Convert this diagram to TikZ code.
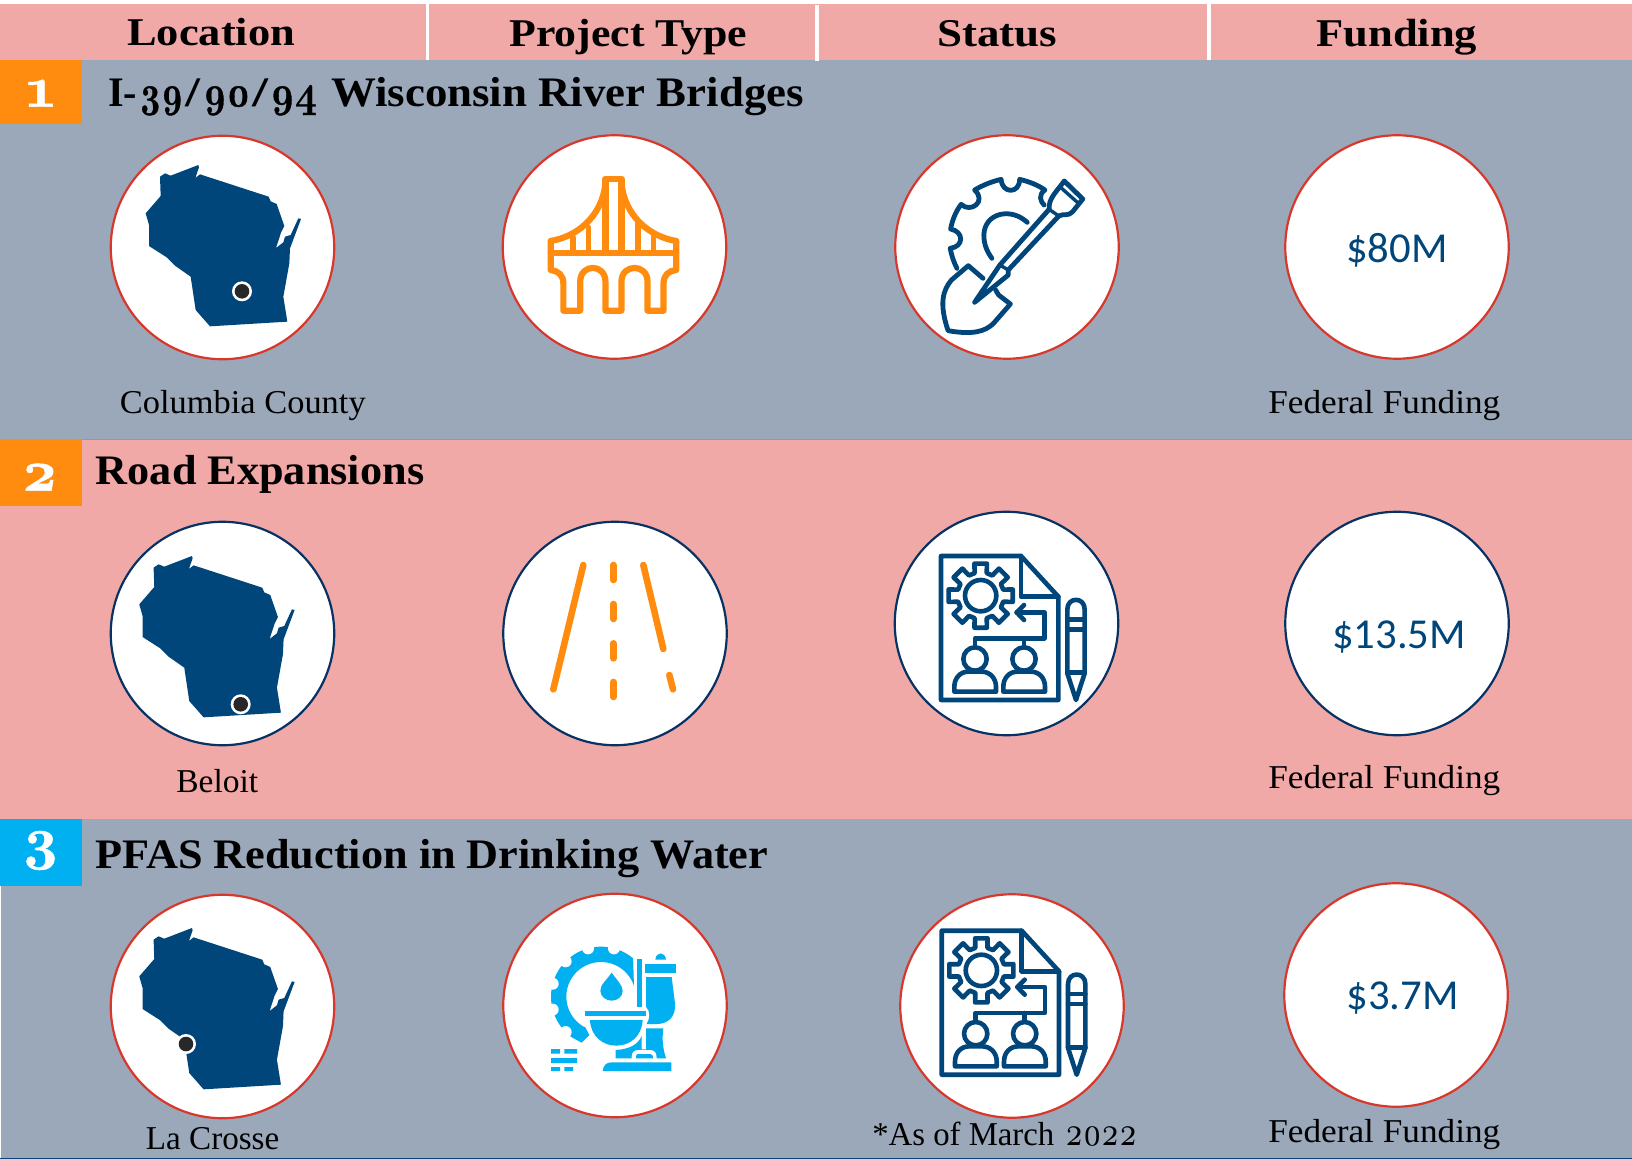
\documentclass[tikz,border=0pt]{standalone}
\usepackage{fontspec}
\usepackage{graphicx}
\setmainfont{Liberation Serif}
\newfontfamily\onum[Numbers=OldStyle,Scale=1.2,Extension=.otf]{lmroman10-regular}
\newfontfamily\onumb[Numbers=OldStyle,Extension=.otf,FakeBold=0.8]{lmroman10-bold}
\newfontfamily\onumt[Numbers=OldStyle,Scale=1.05,Extension=.otf,FakeBold=0.8]{lmroman10-bold}
\newfontfamily\calib{Carlito}
\newlength\pxu
\setlength\pxu{0.75pt}
\newcommand\fitw[2]{\resizebox{#1\pxu}{\height}{#2}}
\definecolor{rowpink}{RGB}{241,169,167}
\definecolor{rowblue}{RGB}{154,168,186}
\definecolor{orangebox}{RGB}{255,140,15}
\definecolor{cyanbox}{RGB}{0,176,240}
\definecolor{navyicon}{RGB}{0,70,122}
\definecolor{ringred}{RGB}{216,56,44}
\definecolor{ringnavy}{RGB}{8,50,100}
\definecolor{pindark}{RGB}{40,40,40}
\tikzset{
  headtxt/.style={anchor=base west,inner sep=0pt,font=\fontsize{29.5}{31}\selectfont\bfseries,text=black},
  titletxt/.style={anchor=base west,inner sep=0pt,font=\fontsize{31.5}{33}\selectfont\bfseries,text=black},
  captxt/.style={anchor=base west,inner sep=0pt,font=\fontsize{25}{27}\selectfont,text=black},
  numtxt/.style={anchor=base,inner sep=0pt,font=\onumb\fontsize{44}{46}\selectfont,text=white},
  disc/.style={circle,fill=white,inner sep=0pt,minimum size=223.5\pxu,line width=2.2\pxu},
  redring/.style={disc,draw=ringred},
  navyring/.style={disc,draw=ringnavy},
  money/.style={inner sep=0pt,font=\calib\fontsize{32}{34}\selectfont,text=navyicon},
  iconline/.style={line width=#1\pxu,line join=round,line cap=round,draw=navyicon},
  orangeline/.style={line width=#1\pxu,line join=round,line cap=round,draw=orangebox},
  divider/.style={fill=white}
}
\newcommand\wimap[4]{% dx dy pinx piny
\begin{scope}[shift={(#1,#2)},x=0.25pt,y=-0.25pt]
\fill[navyicon] (480,530)--(495,520)--(512,527)--(595,495)--(597,502)--(586,534)--(600,523)--(806,590)--(812,604)--(830,612)--(853,678)--(843,698)--(828,744)--(850,727)--(855,710)--(872,705)--(895,655)--(903,657)--(870,745)--(868,790)--(850,890)--(862,965)--(630,979)--(587,930)--(572,830)--(525,797)--(500,772)--(447,738)--(447,675)--(437,640)--(482,588)--cycle;
\end{scope}
\fill[white] (#3,#4) circle[radius=10\pxu];
\fill[pindark] (#3,#4) circle[radius=7.3\pxu];
}
\newcommand\docicon[2]{%
\begin{scope}[shift={(#1,#2)},x=0.25pt,y=-0.25pt]
\draw[iconline=4.6] (183,168)--(423,168)--(535,290)--(535,600)--(183,600)--cycle;
\draw[iconline=4.6] (423,168)--(423,290)--(535,290);
\draw[iconline=4.6] (302,287) circle[radius=47\pxu/3];
\draw[iconline=4.6,shift={(302,287)}] (-11:98) \foreach \a in {0,45,...,315} { -- (\a-11:98) -- (\a+11:98) -- (\a+15:70) -- (\a+30:70)} -- cycle;
\draw[iconline=4.6] (432,315)--(410,337)--(432,360);
\draw[iconline=4.6] (410,337)--(493,337)--(493,415)--(285,415)--(285,440);
\draw[iconline=4.6] (432,415)--(432,440);
\draw[iconline=4.6] (285,477) circle[radius=35\pxu/3];
\draw[iconline=4.6] (432,477) circle[radius=35\pxu/3];
\draw[iconline=4.6] (223,575)--(223,560) .. controls (223,535) and (240,515) .. (265,515)--(305,515) .. controls (330,515) and (348,535) .. (348,560)--(348,575)--cycle;
\draw[iconline=4.6] (370,575)--(370,560) .. controls (370,535) and (387,515) .. (412,515)--(453,515) .. controls (478,515) and (495,535) .. (495,560)--(495,575)--cycle;
\draw[iconline=4.6] (562,520)--(562,328) .. controls (562,290) and (614,290) .. (614,328)--(614,520)--(588,600)--cycle;
\draw[iconline=4.6] (562,358)--(614,358) (562,388)--(614,388) (562,518)--(614,518);
\end{scope}}
\begin{document}
\begin{tikzpicture}[x=\pxu,y=-\pxu]
\useasboundingbox (0,0) rectangle (1632,1159);
\fill[white] (0,0) rectangle (1632,1159);
\fill[rowpink] (0,4) rectangle (1632,60);
\fill[rowblue] (0,60) rectangle (1632,439);
\fill[rowpink] (0,439) rectangle (1632,819);
\fill[rowblue] (1,819) rectangle (1632,1157.5);
\fill[navyicon] (0,1157.5) rectangle (1632,1159);
\draw[rowpink!80!black,line width=0.6\pxu] (0,439.3) -- (1632,439.3);
\fill[divider] (425.5,4) rectangle (429.3,60.5);
\fill[divider] (815,5) rectangle (819,61.5);
\fill[divider] (1207,4) rectangle (1211,60.5);
% number boxes
\fill[orangebox] (0,60) rectangle (82,124);
\fill[orangebox] (0,439) rectangle (82,506);
\fill[cyanbox] (0,819) rectangle (82,886);
\node[numtxt] (n1) at (40.5,106.7) {1};
\node[numtxt] (n2) at (39.5,490.7) {2};
\node[numtxt] (n3) at (40.5,858) {3};
% header
\node[headtxt] (h1) at (127,46) {\fitw{168}{Location}};
\node[headtxt] (h2) at (509,47) {\fitw{238}{Project Type}};
\node[headtxt] (h3) at (937,47) {\fitw{120}{Status}};
\node[headtxt] (h4) at (1316,46.5) {\fitw{161}{Funding}};
% titles
\node[titletxt] (t1) at (108,106.5) {\fitw{29}{I-}\hspace{2\pxu}\fitw{44}{\onumt 39}\hspace{2\pxu}\fitw{15}{/}\hspace{3\pxu}\fitw{47}{\onumt 90}\hspace{2\pxu}\fitw{16}{/}\hspace{2\pxu}\fitw{47}{\onumt 94}\hspace{14\pxu}\fitw{472.6}{Wisconsin River Bridges}};
\node[titletxt] (t2) at (95.5,484.5) {\fitw{328.5}{Road Expansions}};
\node[titletxt] (t3) at (95,868.5) {\fitw{673}{PFAS Reduction in Drinking Water}};
% discs row 1
\node[redring] (c11) at (222.5,247.5) {};
\node[redring] (c12) at (614.5,247) {};
\node[redring] (c13) at (1007,247) {};
\node[redring] (c14) at (1397,247) {};
\node[money] (m1) at (1397,250) {\$80M};
% discs row 2
\node[navyring] (c21) at (222.5,633.5) {};
\node[navyring] (c22) at (615,633.5) {};
\node[navyring] (c23) at (1006.5,623.5) {};
\node[navyring] (c24) at (1397,623.5) {};
\node[money] (m2) at (1399,637) {\$13.5M};
% discs row 3
\node[redring] (c31) at (222.5,1006.5) {};
\node[redring] (c32) at (615,1005.5) {};
\node[redring] (c33) at (1012,1006) {};
\node[redring] (c34) at (1396,995) {};
\node[money] (m3) at (1402.5,998) {\$3.7M};
% captions
\node[captxt] (k1) at (119.7,413) {\fitw{245.7}{Columbia County}};
\node[captxt] (k2) at (1268,413) {\fitw{232}{Federal Funding}};
\node[captxt] (k3) at (176,792) {\fitw{82}{Beloit}};
\node[captxt] (k4) at (1268,788) {\fitw{232}{Federal Funding}};
\node[captxt] (k5) at (145.7,1149) {\fitw{133.3}{La Crosse}};
\node[captxt] (k6) at (872,1145) {\fitw{182}{*As of March}\hspace{11\pxu}\fitw{72}{\onum 2022}};
\node[captxt] (k7) at (1268,1142) {\fitw{232}{Federal Funding}};
% maps
\wimap{0}{0}{242}{291.3}
\wimap{-6.4}{391}{240.7}{704.3}
\wimap{-6.4}{763}{186}{1044}
% bridge
\begin{scope}[shift={(480,120)},x=0.3157pt,y=-0.25pt]
\draw[orangeline=6.2] (298,398)--(298,176)--(336,176)--(336,398);
\draw[orangeline=6.2] (298,190) .. controls (290,290) and (230,350) .. (168,363);
\draw[orangeline=6.2] (336,190) .. controls (344,290) and (404,350) .. (466,363);
\draw[orangeline=6.2] (168,398)--(466,398);
\draw[orangeline=6.2] (168,363)--(168,450) .. controls (185,452) and (198,465) .. (198,490)--(198,572)--(238,572)--(238,485) .. controls (238,430) and (298,430) .. (298,485)--(298,572)--(336,572)--(336,485) .. controls (336,430) and (398,430) .. (398,485)--(398,572)--(436,572)--(436,490) .. controls (436,465) and (449,452) .. (466,450)--(466,363);
\draw[orangeline=5.4] (221,352)--(221,398) (258,322)--(258,398) (375,310)--(375,398) (412,345)--(412,398);
\end{scope}
% shovel and gear
\begin{scope}[shift={(480,120)},x=0.3157pt,y=-0.25pt]
\draw[iconline=4.8] (1133,445) .. controls (1125,425) and (1120,405) .. (1117,385) .. controls (1150,380) and (1150,335) .. (1118,327) .. controls (1122,300) and (1130,275) .. (1143,253) .. controls (1165,280) and (1205,245) .. (1175,210) .. controls (1195,195) and (1215,185) .. (1238,178) .. controls (1240,222) and (1282,222) .. (1282,178) .. controls (1305,185) and (1325,195) .. (1342,210) .. controls (1325,225) and (1332,245) .. (1340,255);
\draw[iconline=4.8] (1300,307) .. controls (1260,260) and (1198,280) .. (1197,345) .. controls (1197,375) and (1205,395) .. (1216,415);
\draw[iconline=4.8] (1352,268) .. controls (1350,235) and (1370,215) .. (1388,183)--(1432,237)--(1408,275) .. controls (1398,290) and (1385,280) .. (1375,288)--(1255,450)--(1255,465)--(1175,547)--(1235,435)--(1352,268);
\draw[iconline=3.4] (1380,203)--(1420,248);
\draw[iconline=3.4] (1352,268)--(1375,288);
\draw[iconline=3.4] (1235,435)--(1255,450);
\draw[iconline=4.8] (1195,475)--(1160,437)--(1120,480) .. controls (1100,510) and (1090,550) .. (1112,632) .. controls (1170,645) and (1200,635) .. (1220,610)--(1260,552)--(1232,525)--(1225,510);
\end{scope}
% road
\begin{scope}[shift={(500,510)},x=0.25pt,y=-0.25pt]
\draw[orangeline=6.6] (250,165)--(160,538);
\draw[orangeline=6.6] (340,165)--(340,210) (340,282)--(340,327) (340,400)--(340,445) (340,516)--(340,561);
\draw[orangeline=6.6] (430,165)--(490,417);
\draw[orangeline=6.6] (508,495)--(519,538);
\end{scope}
% document icons
\docicon{880}{500}
\docicon{880.7}{874.7}
% toilet
\begin{scope}[shift={(500,890)},x=0.25pt,y=-0.25pt]
\fill[cyanbox] plot[domain=50:235,samples=60] ({303+150*cos(\x)},{320-150*sin(\x)}) -- (245,458) -- (268,435) -- (255,410) -- plot[domain=242:18,samples=60] ({303+104*cos(\x)},{320-104*sin(\x)}) -- cycle;
\foreach \a in {75,105,135,165,195,225} \fill[white] ({303+150*cos(\a)},{320-150*sin(\a)}) circle[radius=18\pxu/3];
\fill[cyanbox] (335,248) .. controls (320,270) and (300,285) .. (301,303) .. controls (302,322) and (320,332) .. (335,332) .. controls (352,332) and (368,320) .. (368,303) .. controls (368,285) and (350,270) .. (335,248) -- cycle;
\fill[cyanbox] (411,207) rectangle (426,350);
\fill[cyanbox] (255,363) rectangle (438,378);
\fill[cyanbox] (270,390) .. controls (272,440) and (310,467) .. (348,467) .. controls (390,467) and (425,440) .. (428,390) -- cycle;
\fill[cyanbox] (435,222) rectangle (528,248);
\fill[cyanbox] (466,209) .. controls (468,184) and (496,184) .. (498,209) -- cycle;
\fill[cyanbox] (438,261)--(515,261)--(525,340) .. controls (528,380) and (505,402) .. (470,402)--(440,402) .. controls (450,385) and (452,365) .. (438,350)--cycle;
\fill[cyanbox] (347,505)--(347,480) .. controls (385,478) and (415,465) .. (425,437)--(425,478)--(438,478)--(438,415)--(490,415) .. controls (485,450) and (490,480) .. (498,505)--cycle;
\fill[white] (395,508)--(395,500) .. controls (395,485) and (405,480) .. (415,480)--(450,480) .. controls (465,480) and (470,490) .. (470,505)--(470,508)--cycle;
\fill[cyanbox] (408,505)--(408,498) .. controls (408,494) and (412,492) .. (416,492)--(450,492) .. controls (456,492) and (460,496) .. (460,505)--cycle;
\fill[cyanbox] (308,543) .. controls (310,525) and (320,517) .. (335,517)--(514,517)--(514,543)--cycle;
\fill[cyanbox] (153,477) rectangle (180,491) (193,477) rectangle (231,491) (153,504) rectangle (231,519) (153,531) rectangle (180,543) (193,531) rectangle (219,543);
\end{scope}
\end{tikzpicture}
\end{document}
